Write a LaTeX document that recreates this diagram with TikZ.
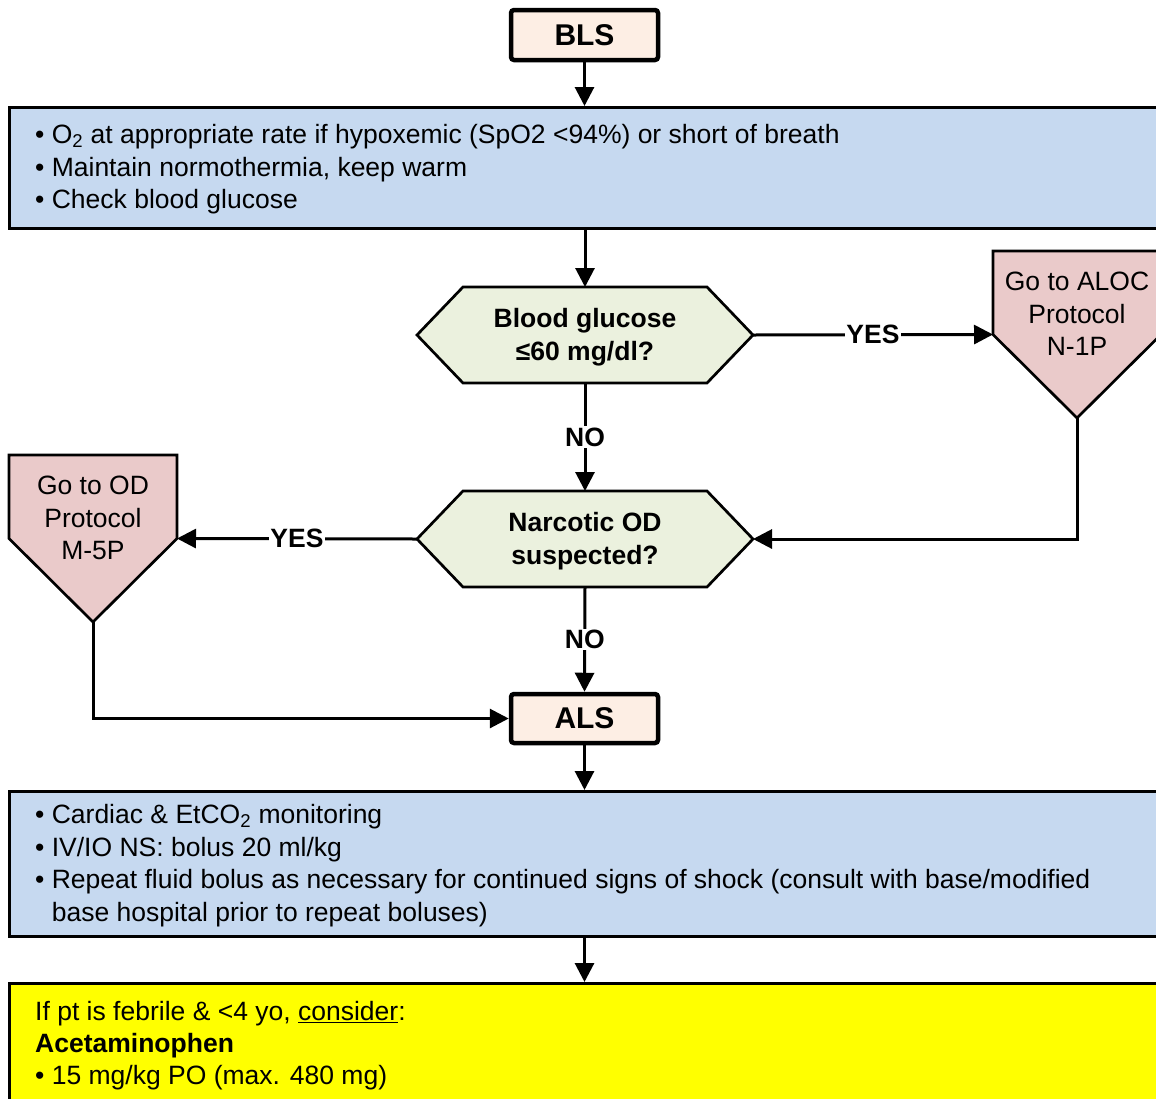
\documentclass[tikz,border=0pt]{standalone}
\usepackage{fontspec}
\setmainfont{Liberation Sans}
\usetikzlibrary{arrows.meta}
\definecolor{peach}{HTML}{FDEEE4}
\definecolor{bluefill}{HTML}{C6D9F0}
\definecolor{greenfill}{HTML}{EBF1DE}
\definecolor{pinkfill}{HTML}{EACACA}
\definecolor{yelfill}{HTML}{FFFF00}
\begin{document}
\begin{tikzpicture}[x=1pt,y=-1pt,
  txt/.style={font=\fontsize{26.5}{32.5}\selectfont, inner sep=0pt, text=black},
  txtb/.style={font=\bfseries\fontsize{26.5}{32.5}\selectfont, inner sep=0pt, text=black},
  term/.style={draw, line width=4.5pt, fill=peach, rounded corners=3pt, minimum width=147pt, minimum height=50pt, inner sep=0pt, font=\bfseries\fontsize{30}{36}\selectfont},
  panel/.style={draw, line width=2.7pt, anchor=north west, inner sep=0pt, minimum width=1190pt},
  anchorbox/.style={inner sep=0pt, outer sep=0pt},
  shapeline/.style={draw, line width=2.7pt, line join=miter},
  conn/.style={line width=3pt, -{Triangle[length=19pt,width=19pt]}},
  lbl/.style={fill=white, inner sep=1.5pt, font=\bfseries\fontsize{26.5}{32.5}\selectfont}
]
\useasboundingbox (0,0) rectangle (1156,1098);
\clip (0,0) rectangle (1156,1098);

% terminals
\node[term] (bls) at (584.5,35) {BLS};
\node[term, minimum height=49pt] (als) at (584.5,718.5) {ALS};

% panels
\node[panel, fill=bluefill, minimum height=121pt] (p1) at (8,106) {};
\node[txt, anchor=base west] (p1t) at (35,143.5) {\begin{tabular}[t]{@{}l@{\ }l@{}}
• & O\textsubscript{2} at appropriate rate if hypoxemic (SpO2 <94\%) or short of breath\\
• & Maintain normothermia, keep warm\\
• & Check blood glucose
\end{tabular}};

\node[panel, fill=bluefill, minimum height=145pt] (p2) at (8,790) {};
\node[txt, anchor=base west] (p2t) at (35,823.5) {\begin{tabular}[t]{@{}l@{\ }l@{}}
• & Cardiac \& EtCO\textsubscript{2} monitoring\\
• & IV/IO NS: bolus 20 ml/kg\\
• & Repeat fluid bolus as necessary for continued signs of shock (consult with base/modified\\
  & base hospital prior to repeat boluses)
\end{tabular}};

\node[panel, fill=yelfill, minimum height=200pt] (p3) at (8,982) {};
\node[font=\fontsize{26.5}{32}\selectfont, inner sep=0pt, anchor=base west] (p3t) at (35,1020.5) {\begin{tabular}[t]{@{}l@{}}
If pt is febrile \& <4 yo, \underline{consider}:\\
\textbf{Acetaminophen}\\
• 15 mg/kg PO (max. 480 mg)
\end{tabular}};

% decision hexagons
\node[anchorbox, minimum width=336pt, minimum height=96pt] (h1) at (585,335) {};
\draw[shapeline, fill=greenfill] (h1.west) -- ++(46,-48) -- ++(244,0) -- (h1.east) -- ++(-46,48) -- ++(-244,0) -- cycle;
\node[txtb, anchor=base] (h1t) at (585,327.5) {\begin{tabular}[t]{@{}c@{}}Blood glucose\\ ≤60 mg/dl?\end{tabular}};

\node[anchorbox, minimum width=336pt, minimum height=96pt] (h2) at (585,539) {};
\draw[shapeline, fill=greenfill] (h2.west) -- ++(46,-48) -- ++(244,0) -- (h2.east) -- ++(-46,48) -- ++(-244,0) -- cycle;
\node[txtb, anchor=base] (h2t) at (585,531.5) {\begin{tabular}[t]{@{}c@{}}Narcotic OD\\ suspected?\end{tabular}};

% off-page pentagons
\node[anchorbox, minimum width=168pt, minimum height=167pt] (aloc) at (1077,334.5) {};
\draw[shapeline, fill=pinkfill] (aloc.north west) -- (aloc.north east) -- (aloc.east) -- (aloc.south) -- (aloc.west) -- cycle;
\node[txt, anchor=base] (aloct) at (1077,290.5) {\begin{tabular}[t]{@{}c@{}}Go to ALOC\\ Protocol\\ N-1P\end{tabular}};

\node[anchorbox, minimum width=168pt, minimum height=167pt] (od) at (93,538.5) {};
\draw[shapeline, fill=pinkfill] (od.north west) -- (od.north east) -- (od.east) -- (od.south) -- (od.west) -- cycle;
\node[txt, anchor=base] (odt) at (93,494.5) {\begin{tabular}[t]{@{}c@{}}Go to OD\\ Protocol\\ M-5P\end{tabular}};

% connectors
\draw[conn] (bls.south) -- (bls.south |- p1.north);
\draw[conn] (h1.north |- p1.south) -- (h1.north);
\draw[conn] (h1.east) -- node[lbl] {YES} (aloc.west);
\draw[conn] (h1.south) -- node[lbl] {NO} (h2.north);
\draw[conn] (aloc.south) |- (h2.east);
\draw[conn] (h2.west) -- node[lbl] {YES} (od.east);
\draw[conn] (h2.south) -- node[lbl] {NO} (als.north);
\draw[conn] (od.south) |- (als.west);
\draw[conn] (als.south) -- (als.south |- p2.north);
\draw[conn] (als.south |- p2.south) -- (als.south |- p3.north);
\end{tikzpicture}
\end{document}
